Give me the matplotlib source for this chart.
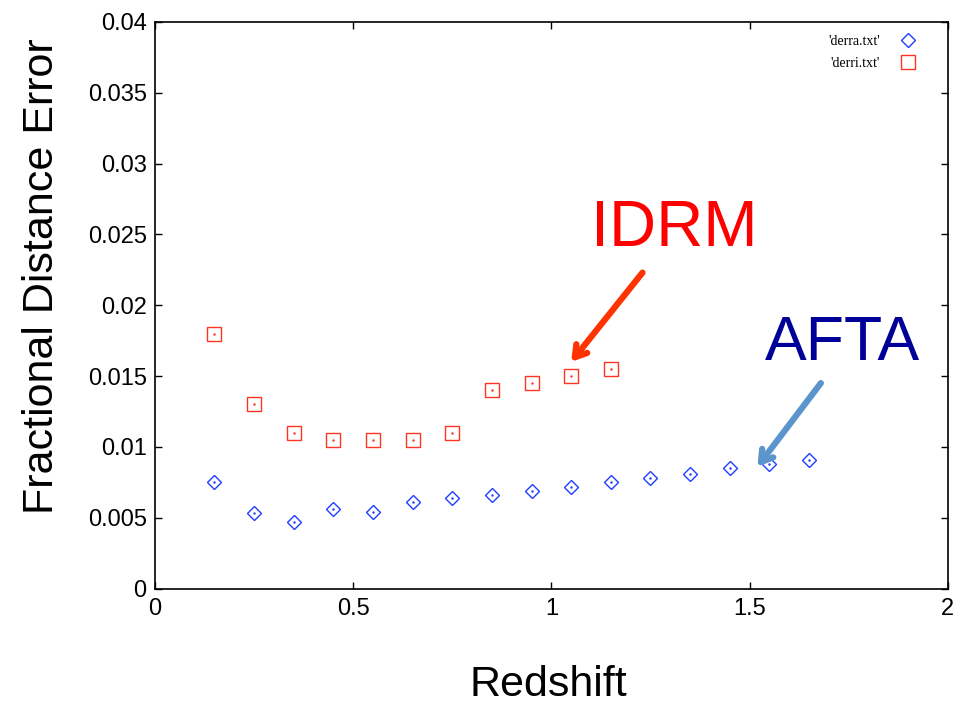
import numpy as np
import matplotlib
matplotlib.use('Agg')
import matplotlib.pyplot as plt

# data
z_afta = [0.15, 0.25, 0.35, 0.45, 0.55, 0.65, 0.75, 0.85, 0.95, 1.05, 1.15, 1.25, 1.35, 1.45, 1.55, 1.65]
err_afta = [0.0075, 0.0053, 0.0047, 0.0056, 0.0054, 0.0061, 0.0064, 0.0066, 0.0069, 0.0072, 0.0075,
            0.0078, 0.0081, 0.0085, 0.0088, 0.0091]
z_idrm = [0.15, 0.25, 0.35, 0.45, 0.55, 0.65, 0.75, 0.85, 0.95, 1.05, 1.15]
err_idrm = [0.018, 0.013, 0.011, 0.0105, 0.0105, 0.0105, 0.011, 0.014, 0.0145, 0.015, 0.0155]

xticks = [0, 0.5, 1, 1.5, 2]
xtick_labels = ['0', '0.5', '1', '1.5', '2']
yticks = [0, 0.005, 0.01, 0.015, 0.02, 0.025, 0.03, 0.035, 0.04]
ytick_labels = ['0', '0.005', '0.01', '0.015', '0.02', '0.025', '0.03', '0.035', '0.04']

blue = '#1f3dff'
red = '#ff3322'

plt.rcParams['font.family'] = ['Liberation Sans', 'DejaVu Sans']

fig = plt.figure(figsize=(9.69, 7.04), dpi=100)
ax = fig.add_axes([0.16, 0.164, 0.818, 0.805])

ax.plot(z_afta, err_afta, linestyle='none', marker='D', ms=7.5, mfc='none', mec=blue, mew=1.0,
        label="'derra.txt'")
ax.plot(z_idrm, err_idrm, linestyle='none', marker='s', ms=10.5, mfc='none', mec=red, mew=1.0,
        label="'derri.txt'")
# little dots in the middle of each marker
ax.plot(z_afta, err_afta, linestyle='none', marker='.', ms=1.5, color=blue)
ax.plot(z_idrm, err_idrm, linestyle='none', marker='.', ms=1.5, color=red)

ax.set_xlim(0, 2)
ax.set_ylim(0, 0.04)
ax.set_xticks(xticks)
ax.set_xticklabels(xtick_labels)
ax.set_yticks(yticks)
ax.set_yticklabels(ytick_labels)
ax.tick_params(direction='in', length=5, width=1, labelsize=17, top=True, right=True)
ax.tick_params(axis='y', pad=6)
ax.tick_params(axis='x', pad=7)
for s in ax.spines.values():
    s.set_linewidth(1.2)

# axis titles placed in figure coords
fig.text(0.5655, 0.0114, 'Redshift', fontsize=31, ha='center', va='baseline')
fig.text(0.0433, 0.607, 'Fractional Distance Error', fontsize=31, rotation=90,
         ha='center', va='center')

handles, labels = ax.get_legend_handles_labels()
ax.legend(handles[:2], labels[:2], loc='upper right', bbox_to_anchor=(0.974, 0.986),
          borderaxespad=0, frameon=False, markerfirst=False,
          prop={'family': 'Liberation Serif', 'size': 10}, handlelength=2.0,
          handletextpad=1.0, labelspacing=0.62)

# annotations
ax.text(1.31, 0.0254, 'IDRM', color='#ff0000', fontsize=47, ha='center', va='center')
ax.annotate('', xy=(1.05, 0.0160), xytext=(1.23, 0.0223),
            arrowprops=dict(arrowstyle='->,head_length=0.8,head_width=0.5', color='#ff3300', lw=4.5,
                            shrinkA=0, shrinkB=0))
ax.text(1.735, 0.0173, 'AFTA', color='#000099', fontsize=45, ha='center', va='center')
ax.annotate('', xy=(1.52, 0.0086), xytext=(1.68, 0.0145),
            arrowprops=dict(arrowstyle='->,head_length=0.8,head_width=0.5', color='#5b95cc', lw=4.5,
                            shrinkA=0, shrinkB=0))

fig.savefig('out.png', dpi=100)
